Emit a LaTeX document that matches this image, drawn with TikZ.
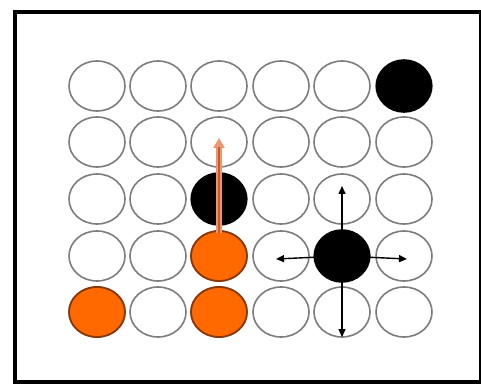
\documentclass[tikz,border=0pt]{standalone}
\usetikzlibrary{shapes.geometric,arrows.meta}
\definecolor{ringgray}{RGB}{125,125,125}
\definecolor{dotorange}{RGB}{255,105,0}
\definecolor{dotedge}{RGB}{140,55,10}
\definecolor{arroworange}{RGB}{240,150,110}
\definecolor{arrowcore}{RGB}{200,90,40}
\tikzset{
  cell/.style={ellipse, draw=ringgray, line width=1.6pt, fill=white, minimum width=56pt, minimum height=50pt, inner sep=0pt},
  blackcell/.style={cell, draw=black, fill=black, minimum width=55pt, minimum height=52pt},
  orangecell/.style={cell, draw=dotedge, fill=dotorange, line width=1.8pt},
  movearrow/.style={line width=1.4pt, -{Triangle[length=8pt,width=7pt]}},
}
\begin{document}
\begin{tikzpicture}[x=1pt,y=-1pt]
\useasboundingbox (0,0) rectangle (481,387);
\fill[white] (0,0) rectangle (481,387);
\draw[line width=4.5pt, black] (15,12) rectangle (481,382);
% grid
\foreach \r/\y in {0/86,1/142,2/199,3/256,4/312}{
  \foreach \c/\x in {0/97,1/158,2/219,3/281,4/342,5/404}{
    \node[cell] (c\r\c) at (\x,\y) {};
  }
}
\node[blackcell] (b05) at (404,86) {};
\node[blackcell] (b22) at (219,199) {};
\node[blackcell] (b34) at (342,256) {};
\node[orangecell] (o32) at (219,256) {};
\node[orangecell] (o42) at (219,312) {};
\node[orangecell] (o40) at (97,312) {};
% orange move arrow
\coordinate (ostart) at ([yshift=-3pt]o32.north);
\coordinate (otip) at (219,138);
\draw[line width=6pt, draw=arroworange, -{Triangle[length=10pt,width=11pt]}] (ostart) -- (otip);
\draw[line width=1.5pt, draw=arrowcore, shorten >=9pt] (ostart) -- (otip);
% black cross arrows
\coordinate (aup) at (342,186);
\coordinate (adown) at (342,337);
\coordinate (aleft) at (276,259);
\coordinate (aright) at (407,259);
\draw[movearrow] (b34.center) -- (aup);
\draw[movearrow] (b34.center) -- (adown);
\draw[movearrow] (b34.center) -- (aleft);
\draw[movearrow] (b34.center) -- (aright);
\end{tikzpicture}
\end{document}
